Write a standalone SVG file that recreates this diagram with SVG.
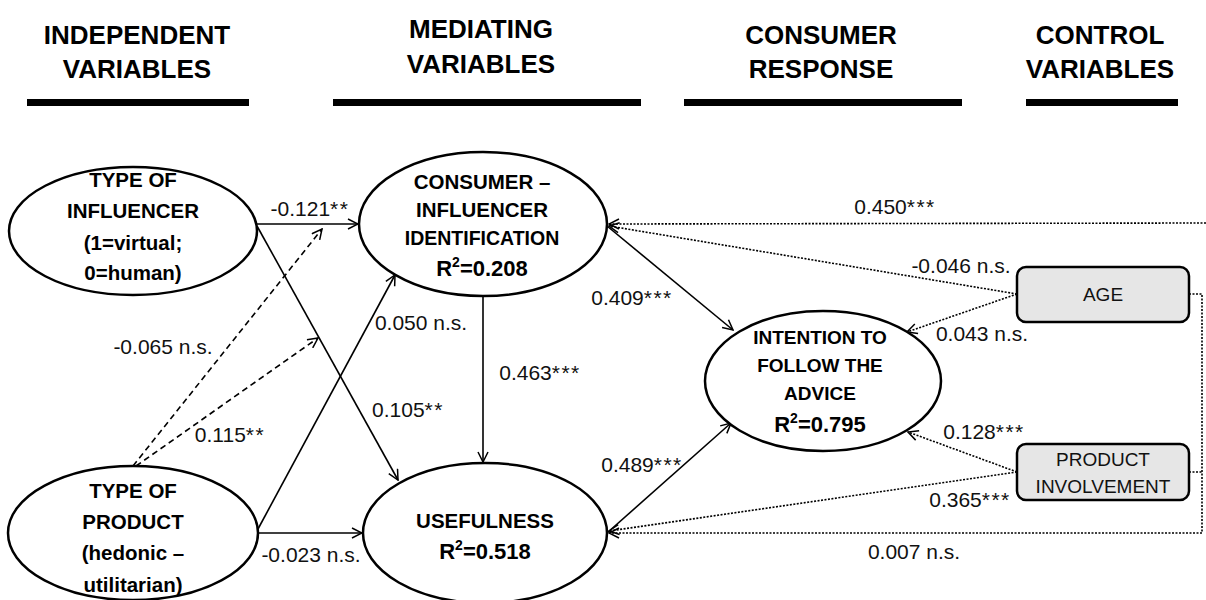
<svg xmlns="http://www.w3.org/2000/svg" width="1206" height="600" viewBox="0 0 1206 600">
<style>
.hdr{font-family:"Liberation Sans",Arial,sans-serif;font-weight:bold;font-size:26px;text-anchor:middle;fill:#000}
.nb{font-family:"Liberation Sans",Arial,sans-serif;font-weight:bold;font-size:20.5px;text-anchor:middle;fill:#000}
.r2{font-family:"Liberation Sans",Arial,sans-serif;font-weight:bold;font-size:22px;text-anchor:middle;fill:#000}
.lbl{font-family:"Liberation Sans",Arial,sans-serif;font-size:21px;text-anchor:middle;fill:#111}
.st{letter-spacing:1.5px}
.box{font-family:"Liberation Sans",Arial,sans-serif;font-size:19px;text-anchor:middle;fill:#111}
.ell{fill:#fff;stroke:#000;stroke-width:2.5}
.rbox{fill:#e6e6e6;stroke:#000;stroke-width:2.5}
.solid{fill:none;stroke:#000;stroke-width:1.6;marker-end:url(#arr)}
.dash{fill:none;stroke:#000;stroke-width:1.6;stroke-dasharray:6,4;marker-end:url(#arr)}
.dot{fill:none;stroke:#000;stroke-width:1.6;stroke-dasharray:2,1.5;marker-end:url(#arr)}
.dotn{fill:none;stroke:#000;stroke-width:1.6;stroke-dasharray:2,1.5}
</style>
<defs>
<marker id="arr" viewBox="0 0 12 12" refX="11" refY="6" markerWidth="12" markerHeight="12" markerUnits="userSpaceOnUse" orient="auto">
<path d="M1,1 L11,6 L1,11" fill="none" stroke="#000" stroke-width="1.5"/>
</marker>
</defs>
<rect width="1206" height="600" fill="#fff"/>

<g id="headers">
<text class="hdr" x="137" y="44">INDEPENDENT</text>
<text class="hdr" x="137" y="78">VARIABLES</text>
<rect x="27" y="99" width="222" height="7" fill="#000"/>
<text class="hdr" x="481" y="38">MEDIATING</text>
<text class="hdr" x="481" y="73">VARIABLES</text>
<rect x="333" y="99" width="308" height="7" fill="#000"/>
<text class="hdr" x="821" y="44">CONSUMER</text>
<text class="hdr" x="821" y="78">RESPONSE</text>
<rect x="684" y="99" width="278" height="7" fill="#000"/>
<text class="hdr" x="1100" y="44">CONTROL</text>
<text class="hdr" x="1100" y="78">VARIABLES</text>
<rect x="1026" y="99" width="152" height="7" fill="#000"/>
</g>

<g id="connectors">
<line class="solid" x1="257" y1="224" x2="358" y2="224"/>
<line class="solid" x1="257" y1="226" x2="398" y2="480"/>
<line class="solid" x1="258" y1="529" x2="395" y2="275"/>
<line class="solid" x1="258" y1="533" x2="362" y2="533"/>
<line class="solid" x1="483" y1="296" x2="483" y2="462"/>
<line class="solid" x1="607" y1="226" x2="733" y2="330"/>
<line class="solid" x1="607" y1="533" x2="731" y2="423"/>
<line class="dash" x1="133" y1="466" x2="322" y2="229"/>
<line class="dash" x1="136" y1="466" x2="318" y2="338"/>
<line class="dot" x1="1206" y1="223" x2="609" y2="224"/>
<line class="dot" x1="1017" y1="294" x2="609" y2="226"/>
<line class="dot" x1="1017" y1="294" x2="907" y2="332"/>
<line class="dot" x1="1017" y1="472" x2="908" y2="432"/>
<line class="dot" x1="1017" y1="472" x2="609" y2="531"/>
<path class="dot" d="M1189,294 H1202 V533 H609"/>
<line class="dotn" x1="1189" y1="472" x2="1202" y2="472"/>
</g>

<g id="labels">
<text class="lbl" x="310" y="216">-0.121<tspan class="st">**</tspan></text>
<text class="lbl" x="408" y="417">0.105<tspan class="st">**</tspan></text>
<text class="lbl" x="421" y="330">0.050 n.s.</text>
<text class="lbl" x="311" y="562">-0.023 n.s.</text>
<text class="lbl" x="540" y="380">0.463<tspan class="st">***</tspan></text>
<text class="lbl" x="632" y="305">0.409<tspan class="st">***</tspan></text>
<text class="lbl" x="642" y="472">0.489<tspan class="st">***</tspan></text>
<text class="lbl" x="163" y="354">-0.065 n.s.</text>
<text class="lbl" x="230" y="442">0.115<tspan class="st">**</tspan></text>
<text class="lbl" x="895" y="214">0.450<tspan class="st">***</tspan></text>
<text class="lbl" x="961" y="273">-0.046 n.s.</text>
<text class="lbl" x="982" y="341">0.043 n.s.</text>
<text class="lbl" x="984" y="439">0.128<tspan class="st">***</tspan></text>
<text class="lbl" x="970" y="507">0.365<tspan class="st">***</tspan></text>
<text class="lbl" x="914" y="559">0.007 n.s.</text>
</g>

<g id="influencer">
<ellipse class="ell" cx="133" cy="231" rx="124" ry="64"/>
<text class="nb" x="133" y="187">TYPE OF</text>
<text class="nb" x="133" y="218">INFLUENCER</text>
<text class="nb" x="133" y="250">(1=virtual;</text>
<text class="nb" x="133" y="280">0=human)</text>
</g>

<g id="product">
<ellipse class="ell" cx="133" cy="533" rx="125" ry="67"/>
<text class="nb" x="133" y="498">TYPE OF</text>
<text class="nb" x="133" y="529">PRODUCT</text>
<text class="nb" x="133" y="560">(hedonic –</text>
<text class="nb" x="133" y="592">utilitarian)</text>
</g>

<g id="identification">
<ellipse class="ell" cx="483" cy="224" rx="124" ry="72"/>
<text class="nb" x="482" y="189">CONSUMER –</text>
<text class="nb" x="482" y="217">INFLUENCER</text>
<text class="nb" x="482" y="245" style="font-size:19.5px">IDENTIFICATION</text>
<text class="r2" x="482" y="276">R<tspan font-size="14" dy="-9">2</tspan><tspan dy="9">=0.208</tspan></text>
</g>

<g id="usefulness">
<ellipse class="ell" cx="485" cy="533" rx="122" ry="70"/>
<text class="nb" x="485" y="528">USEFULNESS</text>
<text class="r2" x="485" y="559">R<tspan font-size="14" dy="-9">2</tspan><tspan dy="9">=0.518</tspan></text>
</g>

<g id="intention">
<ellipse class="ell" cx="823" cy="381" rx="118" ry="70"/>
<text class="nb" x="820" y="344" style="font-size:19px">INTENTION TO</text>
<text class="nb" x="820" y="372" style="font-size:19px">FOLLOW THE</text>
<text class="nb" x="820" y="400" style="font-size:19px">ADVICE</text>
<text class="r2" x="820" y="432">R<tspan font-size="14" dy="-9">2</tspan><tspan dy="9">=0.795</tspan></text>
</g>

<g id="age">
<rect class="rbox" x="1017" y="267" width="172" height="55" rx="9"/>
<text class="box" x="1103" y="301">AGE</text>
</g>

<g id="involvement">
<rect class="rbox" x="1017" y="444" width="172" height="56" rx="9"/>
<text class="box" x="1103" y="466">PRODUCT</text>
<text class="box" x="1103" y="493">INVOLVEMENT</text>
</g>
</svg>
